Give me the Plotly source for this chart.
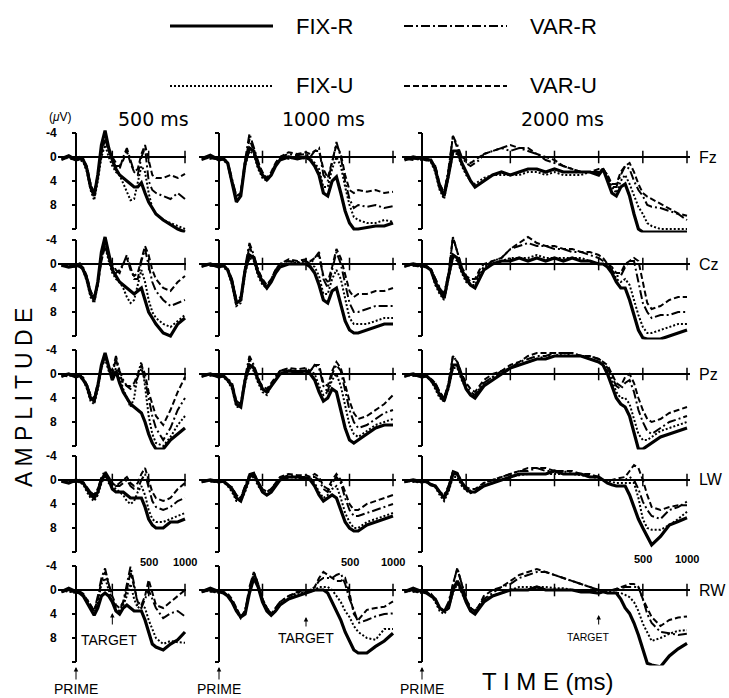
import plotly.graph_objects as go

W, H = 729, 698

# ---------------- data ----------------
CONDITIONS = ["FIX-R", "FIX-U", "VAR-R", "VAR-U"]
CHANNELS = ["Fz", "Cz", "Pz", "LW", "RW"]
SOA_LABELS = ["500 ms", "1000 ms", "2000 ms"]
TARGET_MS = [500, 1000, 2000]
ZERO_LINE_TICKS = [[500, 1000, 1500], [500, 1000, 1500, 2000], [500, 1000, 1500, 2000, 2500, 3000]]
AFTER_TARGET_TICKS = [500, 1000]
Y_TICKS = [-4, 0, 4, 8, 12]
Y_TICK_TEXT = ["-4", "0", "4", "8", ""]

T500 = [-200, -100, 0, 50, 100, 150, 200, 250, 300, 350, 400, 450, 500, 550, 600, 650, 700, 750, 800, 850,
        900, 950, 1000, 1050, 1100, 1200, 1300, 1400, 1500]
T1000 = [-200, -100, 0, 50, 100, 150, 200, 250, 300, 350, 400, 450, 500, 550, 600, 650, 700, 800, 900, 1000,
         1050, 1100, 1150, 1200, 1250, 1300, 1350, 1400, 1450, 1500, 1550, 1600, 1700, 1800, 1900, 2000]
T2000 = [-200, -100, 0, 50, 100, 150, 200, 250, 300, 350, 400, 450, 500, 550, 600, 650, 700,
         800, 900, 1000, 1100, 1200, 1300, 1400, 1500, 1600, 1700, 1800, 1900, 2000,
         2050, 2100, 2150, 2200, 2250, 2300, 2350, 2400, 2450, 2500, 2550, 2600, 2700, 2800, 2900, 3000]

# ---- 500 ms SOA ----
FZ_500_FIX_R = [0.3, -0.2, 0.5, 0.3, 0.5, 2, 5, 6.5, 3, -2, -4.4, -1.5, 0.5, 2, 3, 3.5, 4, 4.5, 5, 5, 4.3, 6, 7.5, 8.5, 9.5, 10.5, 11.2, 12, 12.5]
FZ_500_FIX_U = [0.2, 0, 0.4, 0.5, 0.8, 2.5, 5.5, 7.2, 4, 0, -2, 0, 1.5, 2.5, 3, 4.5, 6, 7.2, 7, 4, 1.5, 2.5, 6, 8.5, 9.5, 10.5, 11, 11.5, 12]
FZ_500_VAR_R = [0.5, 0, 0.3, 0.2, 0.5, 2, 4.5, 6, 3, -1, -3.5, -1, 0, 1, 2, 0, -1.5, 0.5, 2.5, 3, 0, -1.5, 4, 5.5, 6, 6.5, 7, 6, 7]
FZ_500_VAR_U = [0, 0.3, 0.5, 0, 0.3, 1.5, 4.5, 6, 3.5, -0.5, -3, -1, 0.5, 1.5, 1.5, 0.5, -1, 1, 2.5, 2, -0.5, -2, 0.5, 3, 3.5, 3.5, 3, 3.5, 2.8]

CZ_500_FIX_R = [0.2, 0.5, 0.3, 0, 1, 2.5, 5, 6, 3, -2, -4.5, -1.5, 1, 2, 3, 3.5, 4, 4.5, 5, 4.5, 4, 6, 8, 9, 10, 11.5, 12, 10, 9]
CZ_500_FIX_U = [0, 0.3, 0.5, 0.3, 1, 3, 5.5, 6.5, 3.5, -1, -3, -0.5, 1.5, 2.5, 3, 4, 5.5, 6.5, 6, 3.5, 1, 3, 6, 8, 9, 10, 10.5, 9.5, 8.5]
CZ_500_VAR_R = [0.4, 0, 0.2, 0.5, 0.8, 2.5, 4.5, 5.5, 3, -1, -3.5, -1, 0, 1, 1.5, 0, -1.5, 0.5, 2.5, 2.5, -0.5, -2.5, 0.5, 3, 4.5, 6, 7, 6.5, 6]
CZ_500_VAR_U = [0, 0.2, 0.4, 0.2, 0.6, 2, 4.5, 5.5, 3.5, -0.5, -3, -1, 0.5, 1.5, 1, 0, -1, 1, 2, 1.5, -1, -3, -1.5, 1, 2.5, 4, 4.5, 3, 2]

PZ_500_FIX_R = [0.3, 0, 0.5, 0.2, 1, 2, 4, 4.5, 2, -1.5, -3.5, -1, 1, -0.5, 1.5, 3, 4, 5, 5.5, 6, 6.5, 8, 10, 11.5, 12.5, 12.5, 11, 10, 9]
PZ_500_FIX_U = [0, 0.3, 0.2, 0.5, 1, 2.5, 4.5, 5, 2.5, -1, -2.5, -0.5, 0.5, -1, 0.5, 2.5, 4, 5.5, 4, 0, -2, 2, 7, 10, 11.5, 12, 10.5, 8.5, 7]
PZ_500_VAR_R = [0.5, 0, 0.3, 0, 0.8, 2, 3.5, 4, 1.5, -1.5, -3, -1, -0.5, -3, -0.5, 1, 2, 2.5, 2, 0.5, -1, 1, 4, 7, 9, 11, 9, 6, 4]
PZ_500_VAR_U = [0.2, 0.4, 0, 0.3, 0.6, 1.8, 3.5, 4, 2, -1, -3, -1, 0, -2.5, 0, 1.5, 2, 2, 1.5, 0, -1.5, 0, 3, 5, 7, 8.5, 6, 3, 0.5]

LW_500_FIX_R = [0.2, 0.5, 0, 0.3, 0.5, 1.5, 2.5, 3, 2, 0, -1, 0, 1.5, 2, 2, 2, 2.5, 3, 3, 3, 3, 4.5, 6.5, 7.5, 8, 8, 7, 7, 6.5]
LW_500_FIX_U = [0, 0.3, 0.2, 0.5, 0.7, 2, 3, 3.5, 2.5, 0.5, -0.5, 0.5, 1, 1.5, 2, 2.5, 3.5, 4, 3.5, 2, 1, 2.5, 5, 6.5, 7, 7, 6.5, 6, 5.5]
LW_500_VAR_R = [0.3, 0, 0.4, 0, 0.5, 1.5, 2, 2.5, 1.5, -0.5, -1.5, -0.5, 0.5, 1, 1, 0.5, 0, 1, 1.5, 1.5, 0, -1, 1.5, 3.5, 4.5, 5, 4.5, 3.5, 3]
LW_500_VAR_U = [0, 0.2, 0.3, 0.2, 0.4, 1.2, 2, 2.5, 1.5, 0, -1, 0, 0.5, 1, 0.5, 0, -0.5, 0.5, 1, 0.5, -1, -2, 0, 2, 3, 3.5, 3, 1.5, 0.5]

RW_500_FIX_R = [0.3, -0.3, 0.3, 0.5, 1, 2, 3, 4.2, 3, 1, 0.5, 1, 2, 3.5, 4, 3, 2.5, 3, 3.5, 3.5, 3.5, 5, 7, 9, 9.5, 10, 9, 8.3, 7]
RW_500_FIX_U = [0, 0.2, 0.5, 0.3, 0.8, 2, 3, 4, 2, -1, -2, 0, 2, 3.5, 4, 2.5, 1, -1, 1.5, 3, 2.5, 3, 5, 6.5, 8, 9, 8.5, 8.7, 8.8]
RW_500_VAR_R = [0.4, 0, 0.2, 0.4, 0.8, 1.5, 2.5, 3.5, 1, -2, -3.6, -1, 1.5, 3, 3.5, 2, -1, -3.9, -1, 2.5, 3, 1.5, 0, 1.5, 3, 4.7, 3.9, 3.5, 4.4]
RW_500_VAR_U = [0, 0.3, 0.3, 0.2, 0.6, 1.5, 2.5, 3.5, 1.5, -1.5, -3, -1, 1, 2.5, 3, 2, 0, -3, -0.5, 2, 2.5, 1, -1.7, 0.5, 2.5, 3, 2, 1, 0]

# ---- 1000 ms SOA ----
FZ_1000_FIX_R = [0.3, -0.3, 0.5, 0.3, 1, 4, 7.5, 6.5, 1, -1.5, -1, 1.5, 3, 3.8, 3, 1.5, 0.5, 0, 0.3, 0,
                 0.5, 1.5, 3, 6, 6.5, 4, 3.3, 6, 9, 11, 12, 12, 11.8, 11.5, 11.5, 11]
FZ_1000_FIX_U = [0, 0.3, 0.2, 0.5, 1.2, 4.5, 7, 6, 1.5, -1, -0.5, 2, 3.5, 4, 3, 1.5, 0.3, 0.3, 0, 0.3,
                 0.3, 1, 2, 5, 5, 2, 0, 1.5, 5, 8, 10, 10.5, 11, 11, 10.5, 10.8]
FZ_1000_VAR_R = [0.5, 0, 0.3, 0.2, 0.8, 3.5, 6.5, 6, 0.5, -3.9, -1.5, 1, 3, 3.8, 3, 1, 0, -0.5, -0.3, -0.5,
                 0, -1, -1.5, 3, 4, 1, -2.5, 0, 4, 7, 8.5, 8, 8.3, 8, 8.5, 8.2]
FZ_1000_VAR_U = [0, 0.2, 0.4, 0.3, 1, 4, 6.5, 6, 1, -3, -1, 1, 2.5, 3.5, 2.5, 1, 0, -0.8, -0.5, -0.8,
                 -0.5, -1, -1, 2, 3.5, 0.5, -2, -0.5, 3, 5.5, 6, 5.5, 5.8, 5.5, 6, 5.8]

CZ_1000_FIX_R = [0.3, 0, 0.5, 0.2, 1, 3, 6.5, 6, 1, -1.5, -1, 1.5, 3, 4, 3, 1.5, 0.5, 0, 0, 0,
                 0.5, 1.5, 3.5, 6, 6.5, 4.5, 4, 7, 9.5, 11, 11.5, 11.5, 11, 10.5, 10, 10]
CZ_1000_FIX_U = [0, 0.3, 0.2, 0.5, 1.2, 3.5, 7, 6.5, 1.5, -1, -0.5, 2, 3.5, 4, 3, 1.5, 0.3, 0, -0.3, 0,
                 0, 0.5, 2, 5, 5, 2.5, 1, 2.5, 6, 9, 10, 10, 10, 9.5, 9, 9]
CZ_1000_VAR_R = [0.5, 0, 0.3, 0.3, 0.8, 2.5, 6, 6, 0.5, -3.5, -1.5, 1, 3, 4, 2.5, 1, 0, -0.5, -0.3, -0.5,
                 0, -1, -2, 2.5, 4, 1, -2, 0, 3.5, 6.5, 8, 8, 7.5, 7, 7, 7]
CZ_1000_VAR_U = [0, 0.3, 0.4, 0.3, 0.8, 3, 6, 5.5, 1, -3, -1, 1, 2.5, 3.5, 2.5, 1, 0, -0.8, -0.5, -0.8,
                 -0.5, -1, -1.5, 2, 3, 0.5, -2.5, -1, 2, 4.5, 5.5, 5, 5, 4.5, 4.5, 4]

PZ_1000_FIX_R = [0.3, 0, 0.5, 0.3, 1, 2, 5, 5.5, 1, -1.5, -1, 1, 2.5, 3, 2, 1, 0, -0.5, -0.3, -0.5,
                 0, 1, 3, 4.5, 4, 2.5, 3, 6, 9, 11, 11.5, 11, 10, 9, 8.5, 8.5]
PZ_1000_FIX_U = [0, 0.3, 0.2, 0.5, 1.2, 2.5, 5.5, 5.5, 1.5, -1, -0.5, 1.5, 3, 3.5, 2, 1, 0, -0.5, -0.5, -0.5,
                 -0.5, 0, 2, 3.5, 3, 1, 0, 2, 5.5, 8.5, 10, 10.5, 9.5, 8.5, 8, 7.5]
PZ_1000_VAR_R = [0.5, 0, 0.3, 0.3, 0.8, 1.5, 4.5, 5, 0.5, -3, -1.5, 0.5, 2.5, 3, 2, 0.5, -0.5, -0.8, -0.5, -0.5,
                 -0.5, -1.5, -1, 2, 3, 0, -1.5, -0.5, 3, 6, 8, 9, 8.5, 7.5, 6.5, 6]
PZ_1000_VAR_U = [0, 0.2, 0.4, 0.3, 1, 2, 4.5, 5, 1, -2.5, -1, 1, 2, 2.5, 1.5, 0.5, -0.5, -1, -0.8, -1,
                 -0.5, -1.5, -1.5, 1.5, 2, -0.5, -2, -1, 2, 4.5, 6.5, 7.5, 7, 6, 5, 3.5]

LW_1000_FIX_R = [0.3, 0, 0.3, 0.2, 0.8, 1.5, 3, 3.5, 1.5, -0.5, -1, 0.5, 2, 2.5, 2, 1, 0, -0.5, -0.5, -0.3,
                 0, 1, 2.5, 3.5, 3, 2.5, 3, 5, 7, 8, 8.5, 8.5, 7.5, 7, 6.5, 6]
LW_1000_FIX_U = [0, 0.2, 0.4, 0.3, 1, 2, 3.5, 3.5, 2, 0, -0.5, 1, 2, 2.5, 2, 1, 0, -0.5, -0.3, -0.5,
                 -0.3, 0.5, 2, 3, 2.5, 1.5, 1, 3, 5.5, 7, 8, 8, 7, 6.5, 6, 5.5]
LW_1000_VAR_R = [0.4, 0, 0.2, 0.3, 0.7, 1.5, 2.5, 3, 1, -1, -1.2, 0.3, 1.5, 2, 1.5, 0.5, -0.3, -0.8, -0.5, -0.5,
                 -0.5, -0.5, 0, 1.5, 2, 0.5, -0.5, 0.5, 3, 5, 6, 6, 5.5, 5, 4.5, 4]
LW_1000_VAR_U = [0, 0.3, 0.3, 0.2, 0.8, 1.2, 2.5, 3, 1, -0.8, -1, 0.5, 1.5, 2, 1.5, 0.5, -0.5, -1, -0.8, -0.8,
                 -0.5, -1, -0.5, 1, 1.5, 0, -1, 0, 2, 4, 5, 5, 4, 3.5, 3, 2.5]

RW_1000_FIX_R = [0.3, -0.3, 0.3, 0.5, 1, 2, 3.5, 4.5, 4, 0.5, -2, -0.5, 2, 3.5, 4.2, 3.5, 2.5, 1.5, 1, 0.5,
                 0.3, 0, 0, 0, 0.5, 2, 3.5, 5, 7, 8.5, 10, 10.5, 10.5, 9.4, 8.5, 7.2]
RW_1000_FIX_U = [0, 0.2, 0.5, 0.4, 0.8, 2, 3.5, 4.7, 3.5, 0, -2.5, -1, 1.5, 3, 4, 3.5, 2.5, 1.5, 0.5, 0.3,
                 0.3, 0, -0.5, -0.5, -0.5, 0, 1, 2, 3.5, 4.5, 6, 7, 8, 8.3, 6.5, 6.5]
RW_1000_VAR_R = [0.4, 0, 0.2, 0.4, 0.8, 1.8, 3, 4.5, 3.5, -0.5, -3, -1, 1.5, 3, 4, 3, 2, 1, 0.5, 0,
                 0, -0.5, -1.5, -2, -2, -2, -2.5, -2.8, -1, 1.5, 3.3, 5.5, 5, 4.4, 4, 3.9]
RW_1000_VAR_U = [0, 0.3, 0.3, 0.3, 0.6, 1.5, 3, 4.5, 3.5, 0, -3, -1, 1.5, 3, 4, 3, 2, 1, 0.3, 0,
                 0, -0.5, -2, -3, -2.5, -2, -1.5, -1.5, -2, 0.5, 4, 5, 3.3, 3, 2.8, 1.9]

# ---- 2000 ms SOA ----
FZ_2000_FIX_R = [0.5, 0, 0.3, 0.5, 0.5, 2, 5, 6.5, 3, -1, -1, 1, 2.5, 4, 5, 4.5, 4,
                 3, 2.5, 3, 2.5, 2, 2, 2.5, 2, 2.5, 2.5, 2.5, 2.5, 3,
                 2, 4, 6, 6.5, 5, 4.5, 6.5, 9.5, 12, 12.5, 12.5, 12.5, 12.5, 12.5, 12.5, 12.5]
FZ_2000_FIX_U = [0, 0.3, 0.5, 0.3, 0.8, 2.5, 5.5, 7, 3.5, -0.5, -0.5, 1.5, 3, 4, 4.5, 4, 3.5,
                 3, 3, 3, 3, 2.5, 2.5, 3, 2.5, 3, 3, 3, 2.5, 2.5,
                 2, 3, 5, 6, 4, 3, 4.5, 6.5, 8.3, 9.5, 11, 11.5, 12, 12, 12, 12]
FZ_2000_VAR_R = [0.3, 0.5, 0, 0.3, 0.5, 1.5, 4.5, 6, 2, -3.5, -2, 0, 1, 1.5, 1, 0.5, -0.5,
                 -1, -1.5, -1, -1.5, -1, -0.5, 0.5, 1, 1.5, 2, 2.5, 2.5, 2.5,
                 2, 3.5, 5, 5, 3, 1.5, 2, 4, 5.5, 6.5, 8, 8.3, 8.5, 9, 9.5, 10.5]
FZ_2000_VAR_U = [0, 0.3, 0.4, 0.2, 0.6, 1.5, 4.5, 6, 2.5, -3.5, -1.5, 0, 0.5, 1, 0.5, 0, -0.5,
                 -1, -1.5, -2, -1.5, -1.5, -0.5, 0, 0.5, 1.5, 2, 2.5, 2.5, 2,
                 2, 3, 4.5, 4.5, 2.5, 1.5, 1, 2.5, 4.5, 6, 6.6, 7, 7.7, 8.5, 9.4, 9.8]

CZ_2000_FIX_R = [0.3, 0, 0.3, 0.5, 1, 3, 4.5, 5.7, 2, -1.5, -1, 1, 2.5, 3.5, 4, 2.5, 1,
                 0, -0.5, -0.5, -1, -0.5, -1, -0.5, -1, -0.5, -1, -0.5, -0.5, 0,
                 0, 0.5, 1.5, 3, 4, 4, 6, 8.5, 11, 12.3, 12.5, 12.5, 12.5, 12, 11.5, 11]
CZ_2000_FIX_U = [0, 0.3, 0.5, 0.3, 1, 3.5, 5, 6, 2.5, -1, -0.5, 1.5, 3, 3.5, 3.5, 2, 0.5,
                 0, -0.5, -1, -1, -1, -1.5, -1, -1, -1, -1, -1, -0.5, 0,
                 0, 0, 1, 2.5, 3, 2.5, 3.5, 6, 8.5, 10.5, 11.5, 11.5, 11, 10.5, 10, 10]
CZ_2000_VAR_R = [0.5, 0, 0.2, 0.4, 0.8, 2.5, 4, 5, 1.5, -4.5, -2, 0.5, 2, 3, 3, 1.5, 0.5,
                 -0.5, -1, -2.5, -3, -3.5, -3, -3, -2.5, -2.5, -2, -2, -1.5, -1,
                 -0.5, 0, 1, 2, 2, 0.5, -0.5, -0.5, 3, 6.5, 8, 9, 8.5, 8.5, 8, 8]
CZ_2000_VAR_U = [0, 0.3, 0.4, 0.3, 0.8, 2.5, 4, 5, 2, -4.5, -2, 0.5, 2, 2.5, 2.5, 1, 0,
                 -0.5, -1, -2.5, -3.5, -4.5, -3.5, -3, -3, -2.5, -2.5, -2, -2, -1.5,
                 -1, 0, 0.5, 1.5, 1.5, 0, -0.5, -1, -0.5, 3, 6.5, 7.5, 7, 6, 5.5, 5.5]

PZ_2000_FIX_R = [0.3, 0, 0.5, 0.3, 1, 2, 3.5, 4.5, 2, -1.5, -1.5, 0.5, 2.5, 3.5, 4, 3, 2,
                 1, 0, -1, -1.5, -2, -2.5, -2.5, -3, -3, -3, -3, -2.5, -2,
                 -1.5, 0, 2, 4, 5, 5.5, 7, 10, 12.5, 12.5, 12, 11.5, 10.5, 10, 9.5, 9]
PZ_2000_FIX_U = [0, 0.3, 0.3, 0.5, 1, 2.5, 4, 4.5, 2.5, -1, -1, 1, 2.5, 3.5, 3.5, 2.5, 1.5,
                 0.5, 0, -1, -1.5, -2, -2.5, -3, -3, -3.5, -3, -3, -2.5, -2,
                 -1.5, -0.5, 1, 3, 4, 4, 5, 7.5, 10, 11, 11, 10.5, 9.5, 9, 8.5, 8]
PZ_2000_VAR_R = [0.5, 0, 0.2, 0.4, 0.8, 1.5, 3, 4, 1.5, -3, -2, 0, 2, 3, 3.5, 2.5, 1.5,
                 0.5, -0.5, -1, -2, -2.5, -3, -3, -3.5, -3.5, -3.5, -3, -3, -2.5,
                 -2, -1, 0.5, 2, 2.5, 1.5, 1, 3, 6, 8, 9.5, 10, 9, 8, 7.5, 7]
PZ_2000_VAR_U = [0, 0.3, 0.4, 0.3, 0.8, 1.5, 3, 4, 2, -3, -2, 0, 1.5, 2.5, 3, 2, 1,
                 0, -0.5, -1.5, -2, -3, -3.5, -3.5, -3.5, -3.5, -3.5, -3, -3, -2.5,
                 -2, -1.5, 0, 1.5, 2, 0.5, 0, 1.5, 4, 6, 7.5, 8, 7.5, 6.5, 6, 5.5]

LW_2000_FIX_R = [0.3, 0, 0.3, 0.2, 0.8, 1, 2, 3, 1.5, -1, -1, 0.5, 1.5, 2, 2, 1.5, 1,
                 0.5, 0, -0.5, -1, -1, -1, -1, -1.5, -1, -1, -1, -0.5, -0.5,
                 0, 0.5, 0.8, 1, 1, 1, 2.5, 4.5, 6.5, 8, 9.5, 10.8, 9.4, 7.5, 6.9, 6.3]
LW_2000_FIX_U = [0, 0.3, 0.4, 0.3, 0.8, 1.2, 2.5, 3.5, 2, -0.5, -0.5, 1, 1.8, 2.2, 2, 1.5, 1,
                 0.5, 0, -0.5, -0.8, -1, -1, -1, -1, -1, -1, -0.8, -0.5, -0.3,
                 0, 0, 0.3, 0.5, 0.5, 0.5, 0.5, 0.5, 3, 6.5, 8, 8.3, 8.3, 7.5, 6.5, 5.3]
LW_2000_VAR_R = [0.4, 0, 0.2, 0.4, 0.6, 1, 2, 2.5, 1, -1.5, -1.2, 0.3, 1.2, 1.8, 2, 1.2, 0.5,
                 0, -0.5, -1, -1.5, -1.5, -2, -1.5, -1.5, -1.5, -1, -1, -0.5, -0.5,
                 0, 0, 0, 0, 0, 0, -0.5, 0, 1.5, 3.6, 5, 6, 6.5, 5, 4.5, 3.6]
LW_2000_VAR_U = [0, 0.3, 0.3, 0.3, 0.6, 1, 2, 2.5, 1.5, -1.5, -1, 0.5, 1.2, 1.5, 1.5, 1, 0.5,
                 0, -0.5, -1, -1.5, -2, -2, -2, -1.5, -1.5, -1.5, -1, -1, -0.5,
                 0, 0, 0, -0.2, -0.3, -0.5, -1.5, -2.5, -2, 0, 2.5, 4.5, 5, 4.5, 4.2, 4.2]

RW_2000_FIX_R = [0.3, -0.3, 0.3, 0.5, 1, 1.5, 3, 3.5, 3, 0, -1.5, 0, 2, 3.5, 4, 3, 2,
                 1, 0.5, 0, 0, 0, -0.5, 0, 0, 0, 0, 0.3, 0.3, 0.5,
                 0.3, 0.5, 0.5, 0.5, 1.5, 3, 3.9, 5.5, 7.5, 10, 12.2, 12.5, 12.8, 11, 9.8, 8.9]
RW_2000_FIX_U = [0, 0.2, 0.5, 0.4, 0.8, 2, 3.5, 4, 3, 0.5, -1, 0.5, 2, 3, 3.5, 2.5, 1.5,
                 1, 0.5, 0, -0.5, -0.5, -0.5, -0.5, -0.3, -0.3, 0, 0, 0, 0,
                 0, 0.3, 0.3, 0.5, 0.5, 0.8, 1.2, 2, 3.5, 5.6, 7, 8.5, 8, 7.3, 6.8, 6.7]
RW_2000_VAR_R = [0.4, 0, 0.2, 0.4, 0.8, 1.5, 3, 3.5, 2, -1, -3.7, -1, 1.5, 3, 3.5, 2.5, 1.5,
                 0.5, -0.5, -1, -2, -2.5, -3, -3, -2.5, -2, -1.5, -1, -0.5, 0,
                 0, 0, 0, 0, -0.3, -0.5, -0.5, -0.5, -0.5, 1.5, 4, 5.5, 7, 7.2, 7.5, 7.3]
RW_2000_VAR_U = [0, 0.3, 0.3, 0.3, 0.6, 1.5, 3, 3.5, 2.5, -1, -3.5, -1, 1.5, 3, 3.5, 2.5, 1,
                 0, -0.5, -1.5, -2.5, -3, -3.5, -3, -2.5, -2, -1.5, -1, -0.5, 0,
                 0, 0, 0, -0.2, -0.5, -0.8, -1, -1, -0.5, 1.5, 3, 4.5, 6, 5, 4.6, 4.4]

TIMES = [T500, T1000, T2000]
SERIES = {
    ("Fz", 0): [FZ_500_FIX_R, FZ_500_FIX_U, FZ_500_VAR_R, FZ_500_VAR_U],
    ("Cz", 0): [CZ_500_FIX_R, CZ_500_FIX_U, CZ_500_VAR_R, CZ_500_VAR_U],
    ("Pz", 0): [PZ_500_FIX_R, PZ_500_FIX_U, PZ_500_VAR_R, PZ_500_VAR_U],
    ("LW", 0): [LW_500_FIX_R, LW_500_FIX_U, LW_500_VAR_R, LW_500_VAR_U],
    ("RW", 0): [RW_500_FIX_R, RW_500_FIX_U, RW_500_VAR_R, RW_500_VAR_U],
    ("Fz", 1): [FZ_1000_FIX_R, FZ_1000_FIX_U, FZ_1000_VAR_R, FZ_1000_VAR_U],
    ("Cz", 1): [CZ_1000_FIX_R, CZ_1000_FIX_U, CZ_1000_VAR_R, CZ_1000_VAR_U],
    ("Pz", 1): [PZ_1000_FIX_R, PZ_1000_FIX_U, PZ_1000_VAR_R, PZ_1000_VAR_U],
    ("LW", 1): [LW_1000_FIX_R, LW_1000_FIX_U, LW_1000_VAR_R, LW_1000_VAR_U],
    ("RW", 1): [RW_1000_FIX_R, RW_1000_FIX_U, RW_1000_VAR_R, RW_1000_VAR_U],
    ("Fz", 2): [FZ_2000_FIX_R, FZ_2000_FIX_U, FZ_2000_VAR_R, FZ_2000_VAR_U],
    ("Cz", 2): [CZ_2000_FIX_R, CZ_2000_FIX_U, CZ_2000_VAR_R, CZ_2000_VAR_U],
    ("Pz", 2): [PZ_2000_FIX_R, PZ_2000_FIX_U, PZ_2000_VAR_R, PZ_2000_VAR_U],
    ("LW", 2): [LW_2000_FIX_R, LW_2000_FIX_U, LW_2000_VAR_R, LW_2000_VAR_U],
    ("RW", 2): [RW_2000_FIX_R, RW_2000_FIX_U, RW_2000_VAR_R, RW_2000_VAR_U],
}
for (ch, c), lst in SERIES.items():
    for s in lst:
        assert len(s) == len(TIMES[c]), (ch, c, len(s), len(TIMES[c]))

# ---------------- geometry / style ----------------
ZERO_PX = [157, 264, 374, 480, 590]
PX_PER_UV = 6.0
Y_RANGE = [12.6, -5.0]
COL_X0 = [76, 219, 422]
COL_PX_PER_MS = [109 / 1500, 174 / 2000, 265 / 3000]
X_RANGE = [[-250, 1520], [-230, 2030], [-230, 3030]]

STYLE = {
    "FIX-R": dict(color="black", width=3.2, dash="solid"),
    "FIX-U": dict(color="black", width=2, dash="2px,2px"),
    "VAR-R": dict(color="black", width=2, dash="9px,3px,2px,3px"),
    "VAR-U": dict(color="black", width=2, dash="6px,3px"),
}
DRAW_ORDER = [3, 2, 1, 0]

SANS = "Arial, Liberation Sans, Helvetica, sans-serif"


def px(x):
    return x / W


def py(y):
    return 1 - y / H


fig = go.Figure()
layout = {}
shapes = []
annotations = []

for r, ch in enumerate(CHANNELS):
    top = ZERO_PX[r] + Y_RANGE[1] * PX_PER_UV
    bot = ZERO_PX[r] + Y_RANGE[0] * PX_PER_UV
    for c in range(3):
        k = r * 3 + c + 1
        sfx = "" if k == 1 else str(k)
        x0, s = COL_X0[c], COL_PX_PER_MS[c]
        xr = X_RANGE[c]
        layout["xaxis" + sfx] = dict(
            domain=[px(x0 + s * xr[0]), px(x0 + s * xr[1])], range=xr,
            visible=False, anchor="y" + sfx, fixedrange=True)
        layout["yaxis" + sfx] = dict(
            domain=[py(bot), py(top)], range=Y_RANGE, anchor="free", position=px(x0),
            showgrid=False, showline=False, zeroline=True, zerolinecolor="black",
            zerolinewidth=2, ticks="outside", ticklen=4, tickwidth=1.5, tickcolor="black",
            tickvals=Y_TICKS, ticktext=Y_TICK_TEXT, showticklabels=(c == 0),
            ticklabelstandoff=13, tickfont=dict(family=SANS, size=12, color="black", weight="bold"),
            fixedrange=True)
        # vertical amplitude axis at prime onset
        shapes.append(dict(type="line", xref="x" + sfx, yref="y" + sfx, x0=0, x1=0,
                           y0=Y_TICKS[0], y1=Y_TICKS[-1], line=dict(color="black", width=2)))
        series = SERIES[(ch, c)]
        for i in DRAW_ORDER:
            cond = CONDITIONS[i]
            fig.add_trace(go.Scatter(
                x=TIMES[c], y=series[i], xaxis="x" + sfx, yaxis="y" + sfx, mode="lines",
                line=STYLE[cond], name=cond, showlegend=False, hoverinfo="skip"))
        # ticks on time axis
        fig.add_trace(go.Scatter(
            x=ZERO_LINE_TICKS[c], y=[0] * len(ZERO_LINE_TICKS[c]), xaxis="x" + sfx, yaxis="y" + sfx,
            mode="markers", marker=dict(symbol="line-ns", size=9, line=dict(width=1.5, color="black")),
            showlegend=False, hoverinfo="skip", cliponaxis=False))
        if c == 2:
            annotations.append(dict(xref="paper", yref="paper", x=px(697), y=py(ZERO_PX[r]),
                                    text=ch, showarrow=False, xanchor="left", yanchor="middle",
                                    font=dict(family=SANS, size=16, color="black")))

# column titles
TITLE_X = [153, 323, 562]
for c, lab in enumerate(SOA_LABELS):
    annotations.append(dict(xref="paper", yref="paper", x=px(TITLE_X[c]), y=py(119), text=lab,
                            showarrow=False, xanchor="center", yanchor="middle",
                            font=dict(family="DejaVu Sans, sans-serif", size=19, color="black")))

annotations.append(dict(xref="paper", yref="paper", x=px(60), y=py(117), text="(<i>μ</i>V)",
                        showarrow=False, xanchor="center", yanchor="middle",
                        font=dict(family=SANS, size=12, color="black")))

# after-target tick labels (500 / 1000)
LABEL_Y = [562, 562, 559]
for c in range(3):
    sfx = str(12 + c + 1)
    for lab in AFTER_TARGET_TICKS:
        annotations.append(dict(xref="x" + sfx, yref="paper", x=TARGET_MS[c] + lab, y=py(LABEL_Y[c]),
                                text=str(lab), showarrow=False, xanchor="center", yanchor="middle",
                                font=dict(family=SANS, size=11, color="black", weight="bold")))

# PRIME and TARGET arrows (bottom row)
TARGET_TEXT = [(109, 640, 14), (306, 638, 14), (588, 637, 10.5)]
TARGET_ARROW = [(613, 626), (617, 628), (615, 626)]
for c in range(3):
    sfx = str(12 + c + 1)
    annotations.append(dict(xref="x" + sfx, yref="paper", x=0, y=py(667), text="",
                            showarrow=True, ax=0, ay=14, arrowhead=2, arrowsize=0.9, arrowwidth=1,
                            arrowcolor="black", standoff=0, startstandoff=0))
    annotations.append(dict(xref="x" + sfx, yref="paper", x=0, y=py(689), text="PRIME",
                            showarrow=False, xanchor="center", yanchor="middle",
                            font=dict(family=SANS, size=14, color="black")))
    ha, ta = TARGET_ARROW[c]
    annotations.append(dict(xref="x" + sfx, yref="paper", x=TARGET_MS[c], y=py(ha), text="",
                            showarrow=True, ax=0, ay=ta - ha, arrowhead=2, arrowsize=0.9, arrowwidth=1,
                            arrowcolor="black", standoff=0, startstandoff=0))
    tx, ty, fs = TARGET_TEXT[c]
    annotations.append(dict(xref="paper", yref="paper", x=px(tx), y=py(ty), text="TARGET",
                            showarrow=False, xanchor="center", yanchor="middle",
                            font=dict(family=SANS, size=fs, color="black")))

# axis titles
annotations.append(dict(xref="paper", yref="paper", x=px(24), y=py(398), text="A M P L I T U D E",
                        showarrow=False, textangle=-90, xanchor="center", yanchor="middle",
                        font=dict(family=SANS, size=23, color="black")))
annotations.append(dict(xref="paper", yref="paper", x=px(548), y=py(681), text="T I M E (ms)",
                        showarrow=False, xanchor="center", yanchor="middle",
                        font=dict(family=SANS, size=24, color="black")))

# legend (drawn manually, two rows by two columns)
LEGEND_POS = {"FIX-R": (170, 26), "VAR-R": (404, 26), "FIX-U": (170, 86), "VAR-U": (404, 86)}
for cond in CONDITIONS:
    lx, ly = LEGEND_POS[cond]
    st = dict(STYLE[cond])
    shapes.append(dict(type="line", xref="paper", yref="paper", x0=px(lx), x1=px(lx + 103),
                       y0=py(ly), y1=py(ly), line=st))
    annotations.append(dict(xref="paper", yref="paper", x=px(lx + 124), y=py(ly), text=cond,
                            showarrow=False, xanchor="left", yanchor="middle",
                            font=dict(family=SANS, size=22, color="black")))

fig.update_layout(
    width=W, height=H, autosize=False,
    margin=dict(l=0, r=0, t=0, b=0),
    paper_bgcolor="white", plot_bgcolor="rgba(0,0,0,0)",
    showlegend=False, shapes=shapes, annotations=annotations,
    **layout)

fig.write_html("out.html", include_plotlyjs=True, config={"displayModeBar": False},
               post_script="document.body.style.margin='0px';document.body.style.overflow='hidden';")
